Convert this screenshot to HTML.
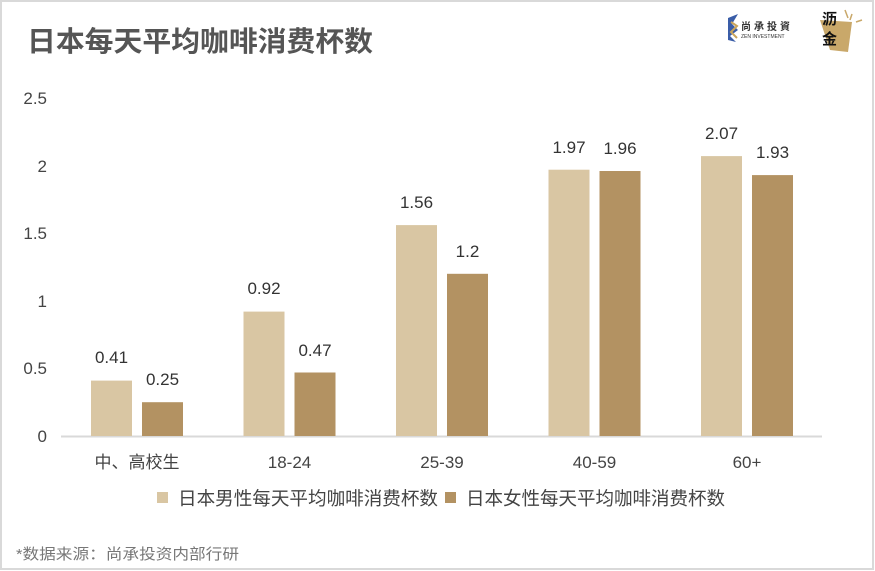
<!DOCTYPE html>
<html><head><meta charset="utf-8"><style>
html,body{margin:0;padding:0;background:#fff}
svg{display:block}
text{font-family:"Liberation Sans","Noto Sans CJK SC",sans-serif}
</style></head><body>
<svg width="875" height="571" viewBox="0 0 875 571" xmlns="http://www.w3.org/2000/svg">
<rect x="1" y="1" width="872" height="568" fill="#fff" stroke="#d9d9d9" stroke-width="2"/>
<text x="27" y="51" font-size="28" font-weight="bold" fill="#555" textLength="346" lengthAdjust="spacingAndGlyphs">日本每天平均咖啡消费杯数</text>
<!-- logo -->
<g>
<path d="M728 18 L738 14 L732 24 L738 30 L730 36 L736 42 L728 40 Z" fill="#3a5da8"/>
<path d="M731 22 L737 26 L731 32 L737 38" stroke="#c9a45c" stroke-width="2" fill="none"/>
<text x="741" y="30" font-size="10" fill="#333" font-weight="bold" letter-spacing="3">尚承投資</text>
<text x="741" y="38" font-size="5" fill="#333">ZEN INVESTMENT</text>
<path d="M820 20 L852 22 L848 52 L830 50 Z" fill="#c9a86a"/>
<path d="M845 10 L848 18 M852 14 L850 20 M856 22 L862 20" stroke="#c9a86a" stroke-width="1.5"/>
<text x="822" y="24" font-size="15" font-weight="bold" fill="#111">沥</text>
<text x="822" y="44" font-size="15" font-weight="bold" fill="#111">金</text>
</g>
<!-- y labels -->
<g font-size="17" fill="#444" text-anchor="end">
<text x="47" y="104">2.5</text>
<text x="47" y="172">2</text>
<text x="47" y="239">1.5</text>
<text x="47" y="307">1</text>
<text x="47" y="374">0.5</text>
<text x="47" y="442">0</text>
</g>
<line x1="61" y1="436.5" x2="822" y2="436.5" stroke="#d9d9d9" stroke-width="2"/>
<g>
<rect x="91" y="380.6" width="41" height="55.4" fill="#d9c6a3"/>
<rect x="142" y="402.2" width="41" height="33.8" fill="#b39262"/>
<rect x="243.5" y="311.6" width="41" height="124.4" fill="#d9c6a3"/>
<rect x="294.5" y="372.5" width="41" height="63.5" fill="#b39262"/>
<rect x="396" y="225.1" width="41" height="210.9" fill="#d9c6a3"/>
<rect x="447" y="273.8" width="41" height="162.2" fill="#b39262"/>
<rect x="548.5" y="169.7" width="41" height="266.3" fill="#d9c6a3"/>
<rect x="599.5" y="171" width="41" height="265" fill="#b39262"/>
<rect x="701" y="156.1" width="41" height="279.9" fill="#d9c6a3"/>
<rect x="752" y="175.1" width="41" height="260.9" fill="#b39262"/>
</g>
<g font-size="17" fill="#333" text-anchor="middle">
<text x="111.5" y="363">0.41</text>
<text x="162.5" y="385">0.25</text>
<text x="264" y="294">0.92</text>
<text x="315" y="356">0.47</text>
<text x="416.5" y="208">1.56</text>
<text x="467.5" y="257">1.2</text>
<text x="569" y="153">1.97</text>
<text x="620" y="154">1.96</text>
<text x="721.5" y="139">2.07</text>
<text x="772.5" y="158">1.93</text>
</g>
<g font-size="17" fill="#444" text-anchor="middle">
<text x="137" y="468">中、高校生</text>
<text x="289.5" y="468">18-24</text>
<text x="442" y="468">25-39</text>
<text x="594.5" y="468">40-59</text>
<text x="747" y="468">60+</text>
</g>
<rect x="157" y="492" width="11" height="11" fill="#d9c6a3"/>
<text x="178" y="505" font-size="18.5" fill="#444" textLength="260" lengthAdjust="spacingAndGlyphs">日本男性每天平均咖啡消费杯数</text>
<rect x="445" y="492" width="11" height="11" fill="#b39262"/>
<text x="466" y="505" font-size="18.5" fill="#444" textLength="259" lengthAdjust="spacingAndGlyphs">日本女性每天平均咖啡消费杯数</text>
<text x="16" y="559" font-size="15" fill="#777" textLength="223" lengthAdjust="spacingAndGlyphs">*数据来源：尚承投资内部行研</text>
</svg>
</body></html>
